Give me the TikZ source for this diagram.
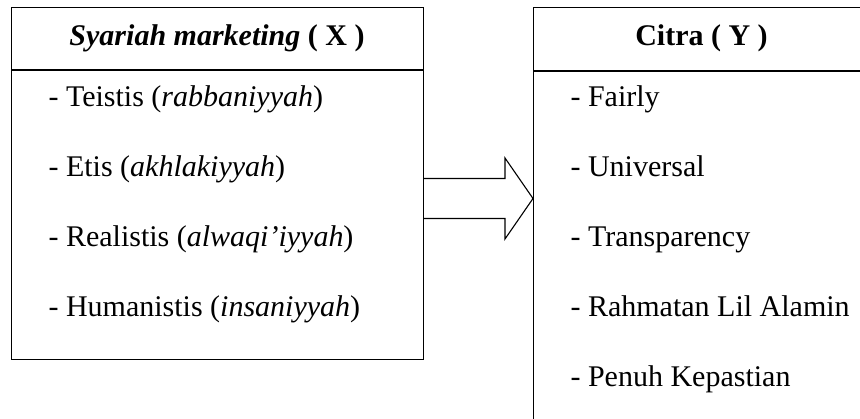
\documentclass[tikz,border=0pt]{standalone}
\usepackage{fontspec}
\setmainfont{Liberation Serif}
\begin{document}
\begin{tikzpicture}[x=1pt,y=1pt,line width=1.1pt,
  box/.style={draw,inner sep=0pt,anchor=north west},
  head/.style={inner sep=0pt,anchor=base,font=\fontsize{30}{36}\selectfont},
  item/.style={inner sep=0pt,anchor=base west,font=\fontsize{30}{36}\selectfont}]
\clip (0,0) rectangle (860,418);
% boxes
\node[box,minimum width=412pt,minimum height=352pt] (X) at (11,411) {};
\node[box,minimum width=337pt,minimum height=440pt] (Y) at (533,411) {};
\draw (X.west |- 0,348) -- (X.east |- 0,348);
\draw (Y.west |- 0,347) -- (Y.east |- 0,347);
% headers
\node[head] (hx) at (217,372) {\textbf{\textit{Syariah marketing}} \textbf{( X )}};
\node[head] (hy) at (701.5,372) {\textbf{Citra ( Y )}};
% left items
\node[item] (x1) at (48,311) {- Teistis (\textit{rabbaniyyah})};
\node[item] (x2) at (48,241) {- Etis (\textit{akhlakiyyah})};
\node[item] (x3) at (48,171) {- Realistis (\textit{alwaqi’iyyah})};
\node[item] (x4) at (48,101) {- Humanistis (\textit{insaniyyah})};
% right items
\node[item] (y1) at (570,311) {- Fairly};
\node[item] (y2) at (570,241) {- Universal};
\node[item] (y3) at (570,171) {- Transparency};
\node[item] (y4) at (570,101) {- Rahmatan Lil Alamin};
\node[item] (y5) at (570,31) {- Penuh Kepastian};
% block arrow
\draw[line join=miter] (X.east |- 0,239.5) -- (505,239.5) -- (505,260) -- (Y.west |- 0,219.5)
  -- (505,179) -- (505,199.5) -- (X.east |- 0,199.5);
\end{tikzpicture}
\end{document}
